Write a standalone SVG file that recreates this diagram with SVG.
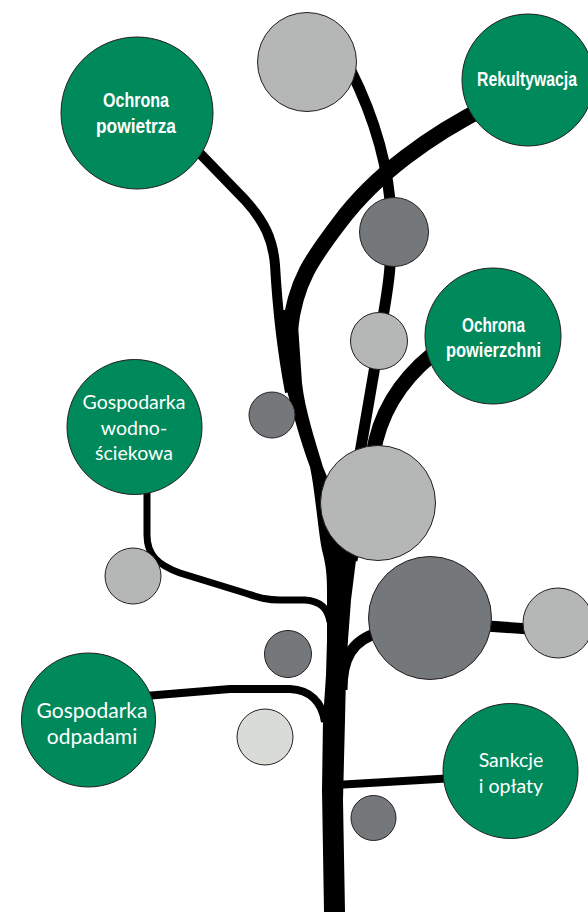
<svg xmlns="http://www.w3.org/2000/svg" width="588" height="912" viewBox="0 0 588 912">
<style>
.br{fill:none;stroke:#000;stroke-linecap:butt;stroke-linejoin:round}
.trunk{fill:#000}
.c{stroke:#231f20;stroke-width:1}
.g{fill:#00895b}
.lg{fill:#b5b7b6}
.dg{fill:#75787a}
.vlg{fill:#d9dbd7}
.tb{font-family:"Liberation Sans",Arial,sans-serif;font-weight:bold;font-size:20px;fill:#fff;text-anchor:middle}
.tr{font-family:Lato,"Liberation Sans",sans-serif;font-size:19.5px;fill:#fff;text-anchor:middle}
</style>
<rect width="588" height="912" fill="#fff"/>
<g id="connectors">
<path class="trunk" d="M 279 310 C 281 345 282 370 285 383 C 292 410 300 440 310 467 C 315 490 318 530 322 550 C 326 565 327 575 327 590 L 327 640 L 326 675 L 323 720 L 322 790 L 324 912 L 345 912 L 343 800 L 345 720 L 346 675 L 348 640 L 351 600 L 356 560 L 345 520 L 323 467 C 315 440 305 410 302 383 L 297 310 Z"/>
<path class="br" stroke-width="10" d="M 185 138 L 245 200 C 265 222 273 240 275 265 C 277 300 280 340 290 392"/>
<path class="br" stroke-width="16" d="M 490 105 C 430 135 375 175 340 222 C 315 255 295 280 290 330"/>
<path class="br" stroke-width="11" d="M 340 50 C 368 100 385 150 390 200 L 390 265 C 389 290 380 330 376 360 L 345 540"/>
<path class="br" stroke-width="15" d="M 445 345 C 412 368 386 400 376 440 L 350 560"/>
<path class="br" stroke-width="7" d="M 147 490 L 147 535 C 147 555 158 565 180 573 L 245 593 C 258 597 265 600 280 600 L 305 600 C 320 601 328 608 330 622"/>
<path class="br" stroke-width="11" d="M 342 690 C 342 658 352 640 380 632"/>
<path class="br" stroke-width="11" d="M 430 622 L 558 631"/>
<path class="br" stroke-width="8" d="M 145 696 L 230 689 L 290 689 C 310 690 322 702 325 722"/>
<path class="br" stroke-width="8" d="M 335 785 L 455 778"/>
</g>
<g id="n-ochrona-powietrza">
<circle class="c g" cx="137" cy="113" r="76"/>
<text class="tb"><tspan x="136" y="107" textLength="66" lengthAdjust="spacingAndGlyphs">Ochrona</tspan><tspan x="136" y="133" textLength="80" lengthAdjust="spacingAndGlyphs">powietrza</tspan></text>
</g>
<g id="n-gray-top"><circle class="c lg" cx="307" cy="62" r="49.5"/></g>
<g id="n-rekultywacja">
<circle class="c g" cx="528" cy="80" r="66"/>
<text class="tb" x="527" y="86" textLength="100" lengthAdjust="spacingAndGlyphs">Rekultywacja</text>
</g>
<g id="n-dark-1"><circle class="c dg" cx="394" cy="232" r="34.5"/></g>
<g id="n-light-2"><circle class="c lg" cx="379" cy="341" r="28.5"/></g>
<g id="n-ochrona-powierzchni">
<circle class="c g" cx="493" cy="336" r="68"/>
<text class="tb"><tspan x="493.5" y="332" textLength="63" lengthAdjust="spacingAndGlyphs">Ochrona</tspan><tspan x="493.5" y="357" textLength="95" lengthAdjust="spacingAndGlyphs">powierzchni</tspan></text>
</g>
<g id="n-dark-2"><circle class="c dg" cx="272" cy="415" r="23"/></g>
<g id="n-gospodarka-wodno">
<circle class="c g" cx="134.5" cy="427" r="67.5"/>
<text class="tr"><tspan x="134" y="409">Gospodarka</tspan><tspan x="134" y="435">wodno-</tspan><tspan x="134" y="460">ściekowa</tspan></text>
</g>
<g id="n-light-big"><circle class="c lg" cx="378" cy="503" r="57.5"/></g>
<g id="n-light-3"><circle class="c lg" cx="133" cy="576" r="28"/></g>
<g id="n-dark-big"><circle class="c dg" cx="430" cy="618" r="61.5"/></g>
<g id="n-light-4"><circle class="c lg" cx="558" cy="623" r="35"/></g>
<g id="n-dark-3"><circle class="c dg" cx="288" cy="654" r="23.5"/></g>
<g id="n-gospodarka-odpadami">
<circle class="c g" cx="88.5" cy="720" r="67"/>
<text class="tr" style="font-size:21px"><tspan x="92" y="718">Gospodarka</tspan><tspan x="92" y="744">odpadami</tspan></text>
</g>
<g id="n-very-light"><circle class="c vlg" cx="265" cy="737" r="28"/></g>
<g id="n-sankcje">
<circle class="c g" cx="510.5" cy="771" r="67.5"/>
<text class="tr"><tspan x="511" y="767">Sankcje</tspan><tspan x="511" y="793">i opłaty</tspan></text>
</g>
<g id="n-dark-4"><circle class="c dg" cx="373.5" cy="818" r="22.5"/></g>
</svg>
